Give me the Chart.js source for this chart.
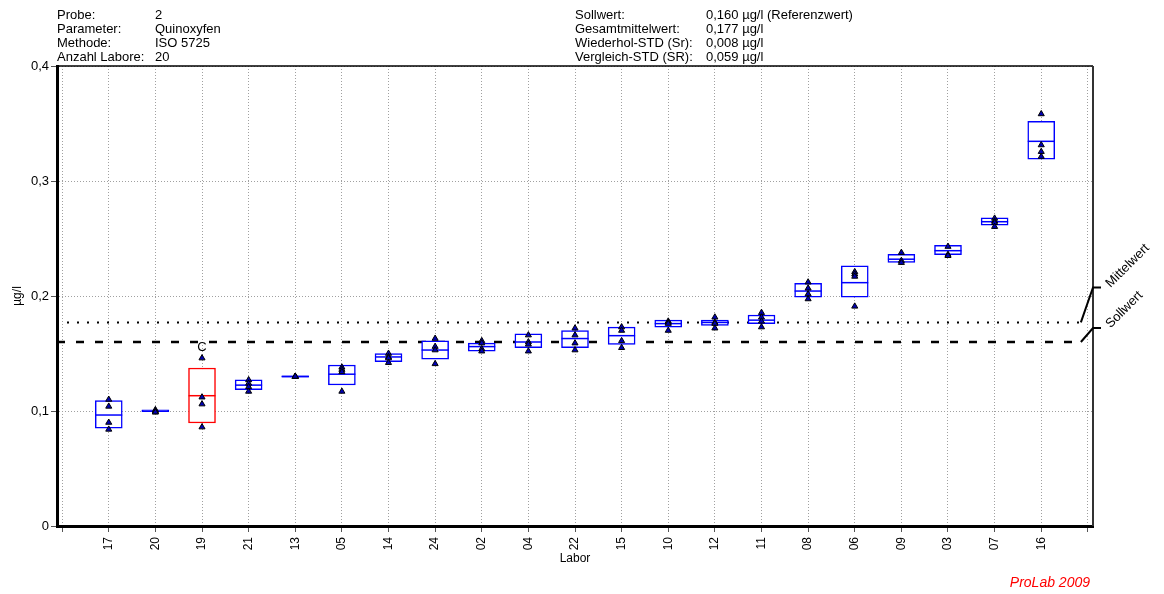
<!DOCTYPE html>
<html lang="de">
<head>
<meta charset="UTF-8">
<title>Quinoxyfen - Probe 2</title>
<script src="https://cdn.jsdelivr.net/npm/chart.js"></script>
<style>
  body { margin: 0; background: #fff; font-family: "Liberation Sans", Arial, sans-serif; }
  .wrap { position: relative; width: 1164px; height: 594px; }
  canvas { position: absolute; left: 0; top: 0; }
  .info { position: absolute; top: 8px; font-size: 13px; line-height: 14px; color: #000; white-space: nowrap; }
  .info span { display: inline-block; }
  #infoLeft { left: 57px; }
  #infoLeft span.k { width: 98px; }
  #infoRight { left: 575px; }
  #infoRight span.k { width: 131px; }
  #credit { position: absolute; right: 74px; top: 574px; color: #ff0000; font-style: italic; font-size: 14px; }
</style>
</head>
<body>
<div class="wrap">
  <canvas id="chart" width="1164" height="594"></canvas>
  <div class="info" id="infoLeft"></div>
  <div class="info" id="infoRight"></div>
  <div id="credit">ProLab 2009</div>
</div>

<script>
// header texts
const infoLeft = [
  ['Probe:', '2'],
  ['Parameter:', 'Quinoxyfen'],
  ['Methode:', 'ISO 5725'],
  ['Anzahl Labore:', '20']
];
const infoRight = [
  ['Sollwert:', '0,160 µg/l (Referenzwert)'],
  ['Gesamtmittelwert:', '0,177 µg/l'],
  ['Wiederhol-STD (Sr):', '0,008 µg/l'],
  ['Vergleich-STD (SR):', '0,059 µg/l']
];

// labs in plotted order
const labs = ['17', '20', '19', '21', '13', '05', '14', '24', '02', '04', '22',
              '15', '10', '12', '11', '08', '06', '09', '03', '07', '16'];
const boxLow  = [0.085, 0.0995, 0.0896, 0.1185, 0.1295, 0.1226, 0.143, 0.145, 0.152, 0.155, 0.155,
                 0.158, 0.173, 0.1745, 0.176, 0.199, 0.199, 0.2293, 0.236, 0.2617, 0.3189];
const boxHigh = [0.109, 0.101, 0.1374, 0.127, 0.1305, 0.140, 0.150, 0.161, 0.159, 0.167, 0.170,
                 0.173, 0.179, 0.179, 0.1835, 0.211, 0.2263, 0.2362, 0.244, 0.268, 0.3519];
const boxMid  = [0.0965, 0.100, 0.1133, 0.1225, 0.130, 0.132, 0.147, 0.153, 0.156, 0.160, 0.163,
                 0.1655, 0.176, 0.177, 0.179, 0.2043, 0.2116, 0.232, 0.2394, 0.2646, 0.3345];
const results = [
  [0.110, 0.104, 0.090, 0.084],
  [0.101, 0.100, 0.099, 0.099],
  [0.146, 0.112, 0.106, 0.086],
  [0.127, 0.124, 0.121, 0.117],
  [0.130, 0.130, 0.130, 0.130],
  [0.138, 0.136, 0.134, 0.117],
  [0.150, 0.147, 0.146, 0.142],
  [0.163, 0.156, 0.153, 0.141],
  [0.161, 0.159, 0.154, 0.152],
  [0.166, 0.160, 0.158, 0.152],
  [0.172, 0.166, 0.159, 0.153],
  [0.173, 0.170, 0.161, 0.155],
  [0.178, 0.177, 0.176, 0.170],
  [0.1815, 0.177, 0.176, 0.172],
  [0.1855, 0.1815, 0.178, 0.173],
  [0.212, 0.2067, 0.2017, 0.1974],
  [0.221, 0.219, 0.217, 0.191],
  [0.2377, 0.2307, 0.229],
  [0.243, 0.236, 0.235],
  [0.2675, 0.265, 0.2637, 0.2603],
  [0.3583, 0.3313, 0.3255, 0.3212]
];
const flags = ['', '', 'C', '', '', '', '', '', '', '', '', '', '', '', '', '', '', '', '', '', ''];
const sollwert = 0.160;
const mittelwert = 0.177;
const yTicks = [0, 0.1, 0.2, 0.3, 0.4];

function fillInfo(id, rows) {
  const el = document.getElementById(id);
  rows.forEach(([k, v]) => {
    const d = document.createElement('div');
    d.innerHTML = '<span class="k"></span><span class="v"></span>';
    d.children[0].textContent = k;
    d.children[1].textContent = v;
    el.appendChild(d);
  });
}
fillInfo('infoLeft', infoLeft);
fillInfo('infoRight', infoRight);

const boxColors = labs.map((_, i) => flags[i] ? '#ff0000' : '#0000ff');
const lineEnd = 21.85;
const fontFamily = '"Liberation Sans", Arial, sans-serif';

Chart.defaults.font.family = fontFamily;
Chart.defaults.font.size = 12;
Chart.defaults.color = '#000';

// frame, labels at the right end of the reference lines, flag letters
const extras = {
  id: 'extras',
  afterDatasetsDraw(chart) {
    const { ctx, chartArea: a, scales: { x, y } } = chart;
    ctx.save();
    ctx.strokeStyle = '#000';
    ctx.lineWidth = 1.5;
    ctx.beginPath();
    ctx.moveTo(a.left, a.top);
    ctx.lineTo(a.right, a.top);
    ctx.stroke();
    ctx.strokeStyle = '#333';
    ctx.lineWidth = 2;
    ctx.beginPath();
    ctx.moveTo(a.right, a.top);
    ctx.lineTo(a.right, a.bottom);
    ctx.stroke();

    const xe = x.getPixelForValue(lineEnd);
    [[mittelwert, -35, 'Mittelwert'], [sollwert, -14, 'Sollwert']].forEach(([v, dy, txt]) => {
      const y0 = y.getPixelForValue(v);
      ctx.strokeStyle = '#000';
      ctx.lineWidth = 2;
      ctx.beginPath();
      ctx.moveTo(xe, y0);
      ctx.lineTo(a.right, y0 + dy);
      ctx.lineTo(a.right + 8, y0 + dy);
      ctx.stroke();
      ctx.save();
      ctx.translate(a.right + 15, y0 + dy - 2);
      ctx.rotate(-Math.PI / 4);
      ctx.font = '13px ' + fontFamily;
      ctx.fillStyle = '#000';
      ctx.textBaseline = 'middle';
      ctx.fillText(txt, 0, 0);
      ctx.restore();
    });

    ctx.font = '13px ' + fontFamily;
    ctx.fillStyle = '#000';
    ctx.textAlign = 'center';
    ctx.textBaseline = 'middle';
    flags.forEach((f, i) => {
      if (!f) return;
      const top = Math.max(...results[i]);
      ctx.fillText(f, x.getPixelForValue(i + 1), y.getPixelForValue(top) - 11);
    });
    ctx.restore();
  }
};

const gridOpts = { color: '#a0a0a0', tickColor: '#555', tickLength: 6, tickBorderDash: [], offset: false };

new Chart(document.getElementById('chart'), {
  type: 'bar',
  data: {
    datasets: [
      {
        type: 'scatter',
        data: results.flatMap((vals, i) => vals.map(v => ({ x: i + 1, y: v }))),
        pointStyle: 'triangle',
        pointRadius: 3.5,
        pointBackgroundColor: '#0000b4',
        pointBorderColor: '#000',
        pointBorderWidth: 1,
        order: 0
      },
      {
        type: 'scatter',
        data: boxMid.map((v, i) => ({ x: i + 1, y: v })),
        pointStyle: 'line',
        pointRadius: 13.5,
        pointBorderColor: boxColors,
        pointBorderWidth: 1.5,
        order: 1
      },
      {
        type: 'bar',
        data: labs.map((_, i) => ({ x: i + 1, y: [boxLow[i], boxHigh[i]] })),
        backgroundColor: '#ffffff',
        borderColor: boxColors,
        borderWidth: 1.5,
        borderSkipped: false,
        barThickness: 27,
        order: 2
      },
      {
        type: 'line',
        data: [{ x: -0.11, y: mittelwert }, { x: lineEnd, y: mittelwert }],
        borderColor: '#000',
        borderWidth: 2,
        borderDash: [2, 8],
        pointRadius: 0,
        fill: false,
        order: 3
      },
      {
        type: 'line',
        data: [{ x: -0.11, y: sollwert }, { x: lineEnd, y: sollwert }],
        borderColor: '#000',
        borderWidth: 2.5,
        borderDash: [8, 11],
        pointRadius: 0,
        fill: false,
        order: 3
      }
    ]
  },
  options: {
    responsive: false,
    devicePixelRatio: 1,
    animation: false,
    events: [],
    layout: { padding: { top: 66, right: 71, bottom: 0, left: 0 } },
    plugins: { legend: { display: false }, tooltip: { enabled: false } },
    scales: {
      x: {
        type: 'linear',
        offset: false,
        min: -0.11,
        max: 22.11,
        afterBuildTicks: s => { s.ticks = Array.from({ length: 23 }, (_, i) => ({ value: i })); },
        afterFit: s => { s.height = 68; },
        ticks: {
          callback: v => labs[v - 1] || '',
          minRotation: 90,
          maxRotation: 90,
          autoSkip: false,
          padding: 5
        },
        grid: gridOpts,
        border: { color: '#000', width: 3, dash: [1, 2] },
        title: { display: true, text: 'Labor', padding: { top: 0, bottom: 28 } }
      },
      y: {
        min: 0,
        max: 0.4,
        afterBuildTicks: s => { s.ticks = yTicks.map(v => ({ value: v })); },
        afterFit: s => { s.width = 57; },
        ticks: {
          callback: v => String(+v.toFixed(1)).replace('.', ','),
          padding: 2,
          font: { size: 13 }
        },
        grid: gridOpts,
        border: { color: '#000', width: 3, dash: [1, 2] },
        title: { display: true, text: 'µg/l', padding: { top: 10, bottom: 0 } }
      }
    }
  },
  plugins: [extras]
});
</script>
</body>
</html>
